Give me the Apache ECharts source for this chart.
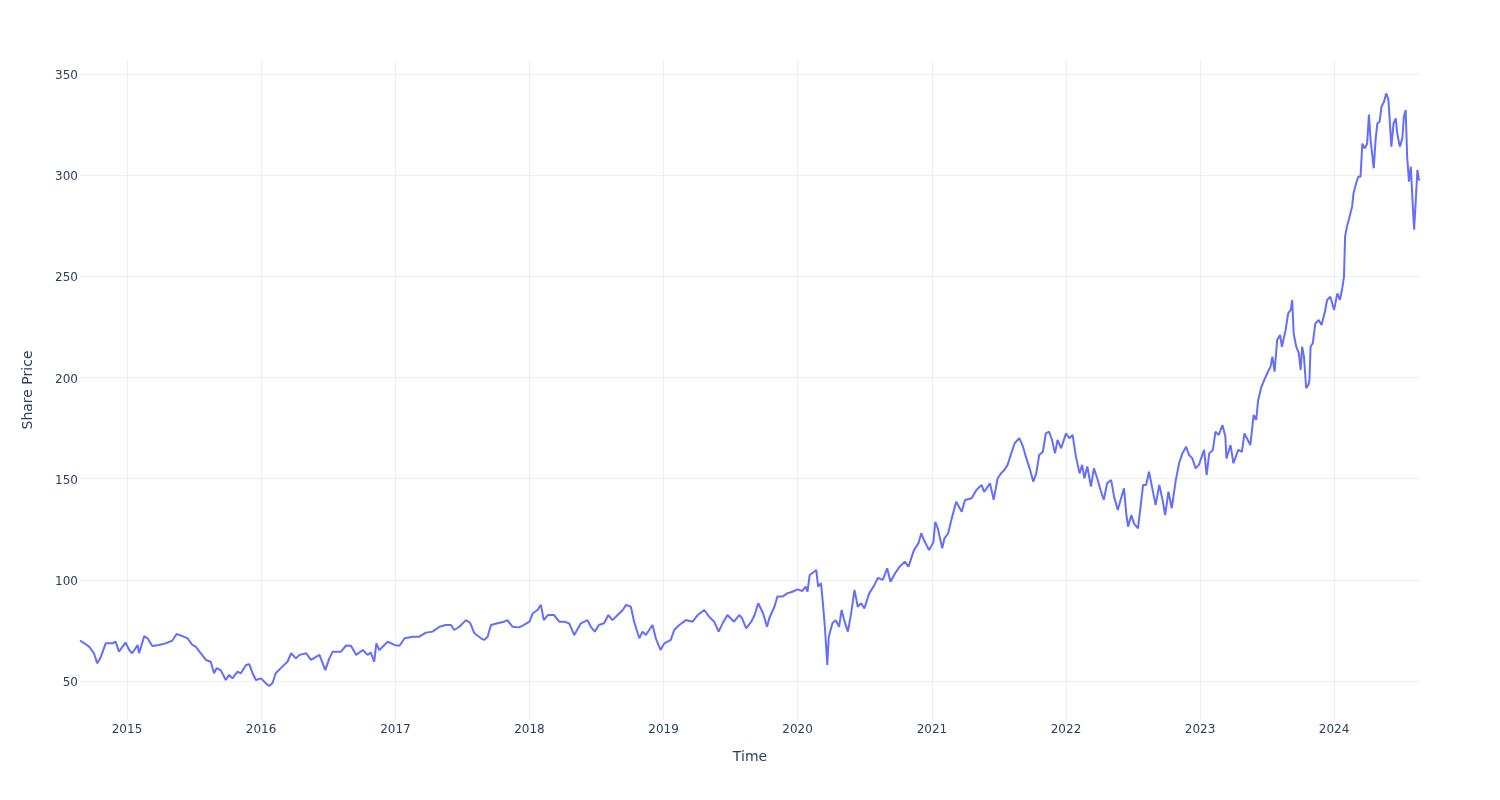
<!DOCTYPE html>
<html>
<head>
<meta charset="utf-8">
<script src="https://cdn.jsdelivr.net/npm/echarts@6/dist/echarts.min.js"></script>
<style>html,body{margin:0;padding:0;background:#fff;}#chart{width:1500px;height:800px;}</style>
</head>
<body>
<div id="chart"></div>
<script>
const dates = [
'2014-08-26','2014-09-20','2014-10-03','2014-10-12','2014-10-22','2014-11-04','2014-11-22','2014-12-01','2014-12-10','2014-12-28',
'2015-01-07','2015-01-15','2015-01-30','2015-02-03','2015-02-17','2015-02-26','2015-03-11','2015-03-29','2015-04-16','2015-05-04',
'2015-05-16','2015-06-01','2015-06-15','2015-06-28','2015-07-07','2015-07-21','2015-08-04','2015-08-17','2015-08-26','2015-09-02',
'2015-09-13','2015-09-27','2015-10-06','2015-10-15','2015-10-29','2015-11-07','2015-11-21','2015-11-30','2015-12-09','2015-12-18',
'2016-01-01','2016-01-14','2016-01-23','2016-02-01','2016-02-10','2016-02-28','2016-03-13','2016-03-23','2016-04-05','2016-04-15',
'2016-05-03','2016-05-16','2016-06-08','2016-06-24','2016-07-05','2016-07-14','2016-08-06','2016-08-19','2016-09-02','2016-09-16',
'2016-10-04','2016-10-17','2016-10-26','2016-11-04','2016-11-10','2016-11-18','2016-12-11','2016-12-29',
'2017-01-12','2017-01-26','2017-02-18','2017-03-07','2017-03-25','2017-04-12','2017-05-01','2017-05-18','2017-06-01','2017-06-10',
'2017-06-24','2017-07-12','2017-07-23','2017-08-04','2017-08-22','2017-08-31','2017-09-09','2017-09-18','2017-10-06','2017-10-24',
'2017-11-02','2017-11-16','2017-12-04','2017-12-17',
'2018-01-01','2018-01-10','2018-01-23','2018-02-01','2018-02-09','2018-02-20','2018-03-09','2018-03-23','2018-04-06','2018-04-19',
'2018-05-03','2018-05-21','2018-06-08','2018-06-17','2018-06-28','2018-07-09','2018-07-23','2018-08-04','2018-08-15','2018-08-29',
'2018-09-12','2018-09-21','2018-10-04','2018-10-13','2018-10-27','2018-11-05','2018-11-14','2018-12-02','2018-12-11','2018-12-24',
'2019-01-03','2019-01-21','2019-01-30','2019-02-13','2019-03-03','2019-03-21','2019-04-04','2019-04-22','2019-05-05','2019-05-19',
'2019-05-31','2019-06-11','2019-06-24','2019-07-12','2019-07-26','2019-08-03','2019-08-14','2019-08-28','2019-09-06','2019-09-16',
'2019-09-29','2019-10-10','2019-10-16','2019-10-30','2019-11-07','2019-11-21','2019-12-04','2019-12-18',
'2020-01-01','2020-01-14','2020-01-23','2020-01-28','2020-02-03','2020-02-15','2020-02-21','2020-02-26','2020-03-05','2020-03-10',
'2020-03-16','2020-03-22','2020-03-26','2020-04-05','2020-04-14','2020-04-23','2020-04-30','2020-05-07','2020-05-17','2020-05-26',
'2020-06-04','2020-06-13','2020-06-22','2020-07-01','2020-07-14','2020-07-27','2020-08-07','2020-08-20','2020-09-01','2020-09-10',
'2020-09-22','2020-10-05','2020-10-19','2020-10-29','2020-11-13','2020-11-25','2020-12-03','2020-12-10','2020-12-24',
'2021-01-01','2021-01-05','2021-01-10','2021-01-17','2021-01-29','2021-02-04','2021-02-14','2021-02-25','2021-03-08','2021-03-23',
'2021-04-01','2021-04-19','2021-05-02','2021-05-16','2021-05-23','2021-06-08','2021-06-18','2021-06-29','2021-07-08','2021-07-17',
'2021-07-26','2021-08-05','2021-08-14','2021-08-27','2021-09-06','2021-09-15','2021-09-24','2021-10-04','2021-10-12','2021-10-20',
'2021-10-30','2021-11-07','2021-11-16','2021-11-24','2021-12-02','2021-12-09','2021-12-19',
'2022-01-01','2022-01-10','2022-01-19','2022-01-28','2022-02-07','2022-02-14','2022-02-20','2022-02-28','2022-03-10','2022-03-18',
'2022-03-27','2022-04-05','2022-04-14','2022-04-23','2022-05-04','2022-05-12','2022-05-22','2022-05-31','2022-06-08','2022-06-14',
'2022-06-19','2022-06-28','2022-07-05','2022-07-16','2022-07-23','2022-07-30','2022-08-07','2022-08-15','2022-08-24','2022-09-02',
'2022-09-12','2022-09-21','2022-09-28','2022-10-07','2022-10-16','2022-10-27','2022-11-05','2022-11-14','2022-11-24','2022-12-02',
'2022-12-11','2022-12-20','2022-12-29',
'2023-01-12','2023-01-19','2023-01-26','2023-02-05','2023-02-12','2023-02-21','2023-03-03','2023-03-11','2023-03-14','2023-03-25',
'2023-04-02','2023-04-15','2023-04-25','2023-05-02','2023-05-11','2023-05-18','2023-05-27','2023-06-03','2023-06-08','2023-06-16',
'2023-06-25','2023-07-03','2023-07-12','2023-07-17','2023-07-23','2023-07-30','2023-08-07','2023-08-12','2023-08-22','2023-08-29',
'2023-09-05','2023-09-09','2023-09-13','2023-09-20','2023-09-27','2023-10-02','2023-10-06','2023-10-11','2023-10-17','2023-10-23',
'2023-10-26','2023-10-29','2023-11-04','2023-11-11','2023-11-20','2023-11-28','2023-12-07','2023-12-13','2023-12-22',
'2024-01-01','2024-01-10','2024-01-17','2024-01-24','2024-01-28','2024-01-31','2024-02-05','2024-02-10','2024-02-19','2024-02-23',
'2024-03-01','2024-03-07','2024-03-13','2024-03-18','2024-03-25','2024-03-31','2024-04-05','2024-04-09','2024-04-18','2024-04-23',
'2024-04-28','2024-05-04','2024-05-09','2024-05-16','2024-05-22','2024-05-28','2024-05-31','2024-06-05','2024-06-11','2024-06-17',
'2024-06-21','2024-06-28','2024-07-05','2024-07-09','2024-07-14','2024-07-18','2024-07-23','2024-07-28','2024-08-02','2024-08-06',
'2024-08-11','2024-08-15','2024-08-19','2024-08-22'
];
const prices = [
70.0,67.0,63.7,58.7,62.0,68.6,68.6,69.4,64.5,69.0,
65.3,63.7,67.8,63.7,72.2,71.1,67.3,67.8,68.6,69.9,
73.2,72.2,71.1,67.8,67.0,63.7,60.4,59.5,53.8,56.3,
55.4,50.5,53.0,51.3,54.6,53.8,57.9,58.3,53.8,50.5,
51.3,48.9,47.5,48.9,53.8,57.1,59.5,63.7,61.2,62.9,
63.7,60.4,62.9,55.4,61.2,64.5,64.5,67.5,67.4,62.9,
65.3,62.9,64.0,59.5,68.6,65.3,69.4,67.8,
67.4,71.1,71.9,71.9,73.9,74.4,76.8,77.7,77.7,75.2,
76.8,80.1,78.8,73.6,71.1,70.3,71.9,77.7,78.5,79.3,
80.1,76.8,76.5,77.7,
79.3,83.5,85.1,87.6,80.1,82.6,82.6,79.3,79.3,78.5,
72.7,78.5,80.1,76.8,74.4,77.7,78.5,82.6,80.1,82.6,
85.1,87.6,86.7,79.3,71.1,74.4,72.7,77.7,71.1,65.3,
68.6,70.3,75.2,77.7,80.1,79.3,82.6,85.1,81.8,79.3,
74.4,78.5,82.6,79.3,82.6,81.0,76.0,79.3,82.6,88.4,
83.5,76.8,81.0,86.7,91.7,91.7,93.3,94.1,
95.3,94.5,96.6,94.1,102.4,104.0,104.9,96.6,98.3,88.4,
75.2,57.9,71.9,78.5,80.1,76.8,85.1,80.1,74.4,83.5,
95.0,86.7,88.4,85.9,93.3,97.0,101.0,100.0,105.7,99.0,
103.0,106.5,109.0,106.5,114.7,118.0,123.0,119.7,114.7,
117.2,118.8,128.7,125.4,115.6,120.5,122.9,131.2,138.6,133.7,
139.5,140.3,144.4,146.9,143.5,147.7,139.5,150.2,152.6,154.3,
156.8,162.5,167.5,170.0,165.8,160.0,155.1,148.5,152.6,161.7,
163.3,172.4,173.2,169.1,162.5,169.1,165.0,
172.4,170.0,171.6,160.9,152.6,156.8,150.2,156.0,146.1,155.1,
150.2,144.4,139.5,147.7,149.3,141.0,134.5,140.3,145.2,132.8,
126.3,132.0,127.9,125.4,136.1,146.9,146.9,153.4,145.2,137.0,
146.9,139.5,132.0,143.6,135.4,149.3,157.6,162.5,165.8,161.7,
160.0,155.1,156.8,
164.2,151.8,162.5,164.2,173.2,171.6,176.5,170.8,160.0,166.6,
157.6,164.2,163.3,172.4,169.1,166.6,181.5,179.0,188.5,194.7,
198.8,202.1,205.4,210.3,202.9,218.5,221.0,215.2,223.5,231.7,
233.4,238.3,221.8,215.2,212.0,203.7,215.2,210.3,194.7,196.3,
198.8,215.2,216.9,226.7,228.4,226.0,232.5,238.3,239.9,
233.4,241.6,238.3,244.9,249.8,269.6,274.5,277.8,284.4,291.0,
296.0,299.2,299.2,315.6,313.2,315.6,330.0,318.2,303.4,317.4,
325.6,326.4,333.8,336.3,340.4,337.2,328.9,314.1,325.6,328.1,
320.7,314.1,318.2,328.9,332.2,309.1,296.8,304.2,286.2,273.0,
289.4,302.6,297.6,298.0
];
const yTicks = [50, 100, 150, 200, 250, 300, 350];
const xTickYears = [2015, 2016, 2017, 2018, 2019, 2020, 2021, 2022, 2023, 2024];

function toMs(s) {
  const p = s.split('-').map(Number);
  return Date.UTC(p[0], p[1] - 1, p[2]);
}
const xTickValues = xTickYears.map(y => Date.UTC(y, 0, 1));
const seriesData = dates.map((d, i) => [toMs(d), prices[i]]);
const txt = '#2a3f5f';
const gridColor = '#ebf0f8';

const chart = echarts.init(document.getElementById('chart'), null, {renderer: 'canvas'});
chart.setOption({
  animation: false,
  backgroundColor: '#ffffff',
  grid: {left: 80, right: 80, top: 60, bottom: 80, containLabel: false},
  xAxis: {
    type: 'value',
    min: toMs(dates[0]),
    max: toMs(dates[dates.length - 1]),
    name: 'Time',
    nameLocation: 'middle',
    nameGap: 30,
    nameTextStyle: {color: txt, fontSize: 14, fontFamily: 'DejaVu Sans'},
    axisLine: {show: false},
    axisTick: {show: false, customValues: xTickValues},
    axisLabel: {
      customValues: xTickValues,
      color: txt, fontSize: 12, fontFamily: 'DejaVu Sans', margin: 4,
      formatter: v => String(new Date(v).getUTCFullYear())
    },
    splitLine: {show: true, lineStyle: {color: gridColor, width: 1}}
  },
  yAxis: {
    type: 'value',
    min: 30.72,
    max: 356.92,
    name: 'Share Price',
    nameLocation: 'middle',
    nameGap: 45,
    nameRotate: 90,
    nameTextStyle: {color: txt, fontSize: 14, fontFamily: 'DejaVu Sans'},
    axisLine: {show: false},
    axisTick: {show: false, customValues: yTicks},
    axisLabel: {
      customValues: yTicks, margin: 2,
      formatter: v => '{t|' + v + '}',
      rich: {t: {color: txt, fontSize: 12, fontFamily: 'DejaVu Sans', padding: [4, 0, 0, 0]}}
    },
    splitLine: {show: true, lineStyle: {color: gridColor, width: 1}}
  },
  series: [{
    type: 'line',
    data: seriesData,
    showSymbol: false,
    symbol: 'none',
    lineStyle: {color: '#636efa', width: 2},
    itemStyle: {color: '#636efa'}
  }]
});
</script>
</body>
</html>
